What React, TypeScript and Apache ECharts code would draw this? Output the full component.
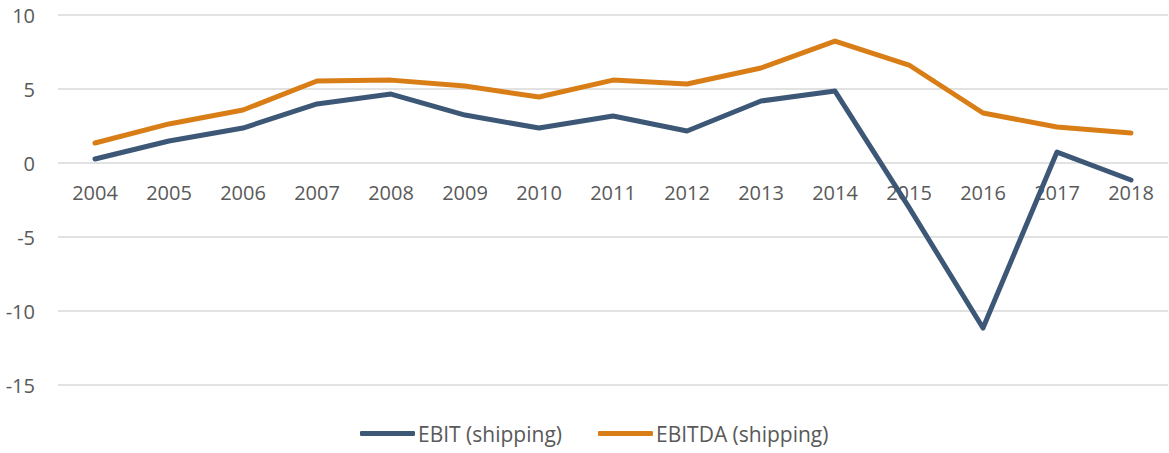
import React, { useEffect, useRef } from "react";
import * as echarts from "echarts";

const years = ["2004", "2005", "2006", "2007", "2008", "2009", "2010", "2011", "2012", "2013", "2014", "2015", "2016", "2017", "2018"];
const ebit = [0.27, 1.49, 2.36, 3.99, 4.66, 3.24, 2.36, 3.18, 2.16, 4.19, 4.86, -3.0, -11.15, 0.74, -1.15];
const ebitda = [1.35, 2.64, 3.58, 5.54, 5.6, 5.2, 4.46, 5.6, 5.34, 6.42, 8.24, 6.62, 3.38, 2.43, 2.03];

const FONT = "'Open Sans', 'Noto Sans', sans-serif";
const TEXT = "#595959";

export default function App() {
  const ref = useRef<HTMLDivElement>(null);
  useEffect(() => {
    const chart = echarts.init(ref.current!, null, { renderer: "svg" });
    chart.setOption({
      animation: false,
      grid: { left: 58, right: 1, top: 15, bottom: 68, containLabel: false },
      legend: {
        bottom: 4,
        left: 355,
        itemWidth: 55,
        itemHeight: 5,
        itemGap: 36,
        icon: "roundRect",
        textStyle: { color: TEXT, fontSize: 21, fontFamily: FONT, padding: [0, 0, 0, -2] },
        data: ["EBIT (shipping)", "EBITDA (shipping)"],
      },
      xAxis: {
        type: "category",
        data: years,
        boundaryGap: true,
        position: "bottom",
        offset: -222,
        axisLine: { show: false, onZero: false },
        axisTick: { show: false },
        axisLabel: { color: TEXT, fontSize: 20, fontFamily: FONT, margin: 19 },
      },
      yAxis: {
        type: "value",
        min: -15,
        max: 10,
        interval: 5,
        axisLine: { show: false },
        axisTick: { show: false },
        axisLabel: { color: TEXT, fontSize: 20, fontFamily: FONT, margin: 23 },
        splitLine: { lineStyle: { color: "#D9D9D9", width: 1.5 } },
      },
      series: [
        {
          name: "EBIT (shipping)",
          type: "line",
          data: ebit,
          showSymbol: false,
          symbol: "none",
          lineStyle: { color: "#3D5877", width: 5, cap: "round", join: "round" },
          itemStyle: { color: "#3D5877" },
        },
        {
          name: "EBITDA (shipping)",
          type: "line",
          data: ebitda,
          showSymbol: false,
          symbol: "none",
          lineStyle: { color: "#D97E17", width: 5, cap: "round", join: "round" },
          itemStyle: { color: "#D97E17" },
        },
      ],
    });
    return () => chart.dispose();
  }, []);
  return (
    <div
      ref={ref}
      style={{ position: "fixed", left: 0, top: 0, width: 1169, height: 453, background: "#fff" }}
    />
  );
}
